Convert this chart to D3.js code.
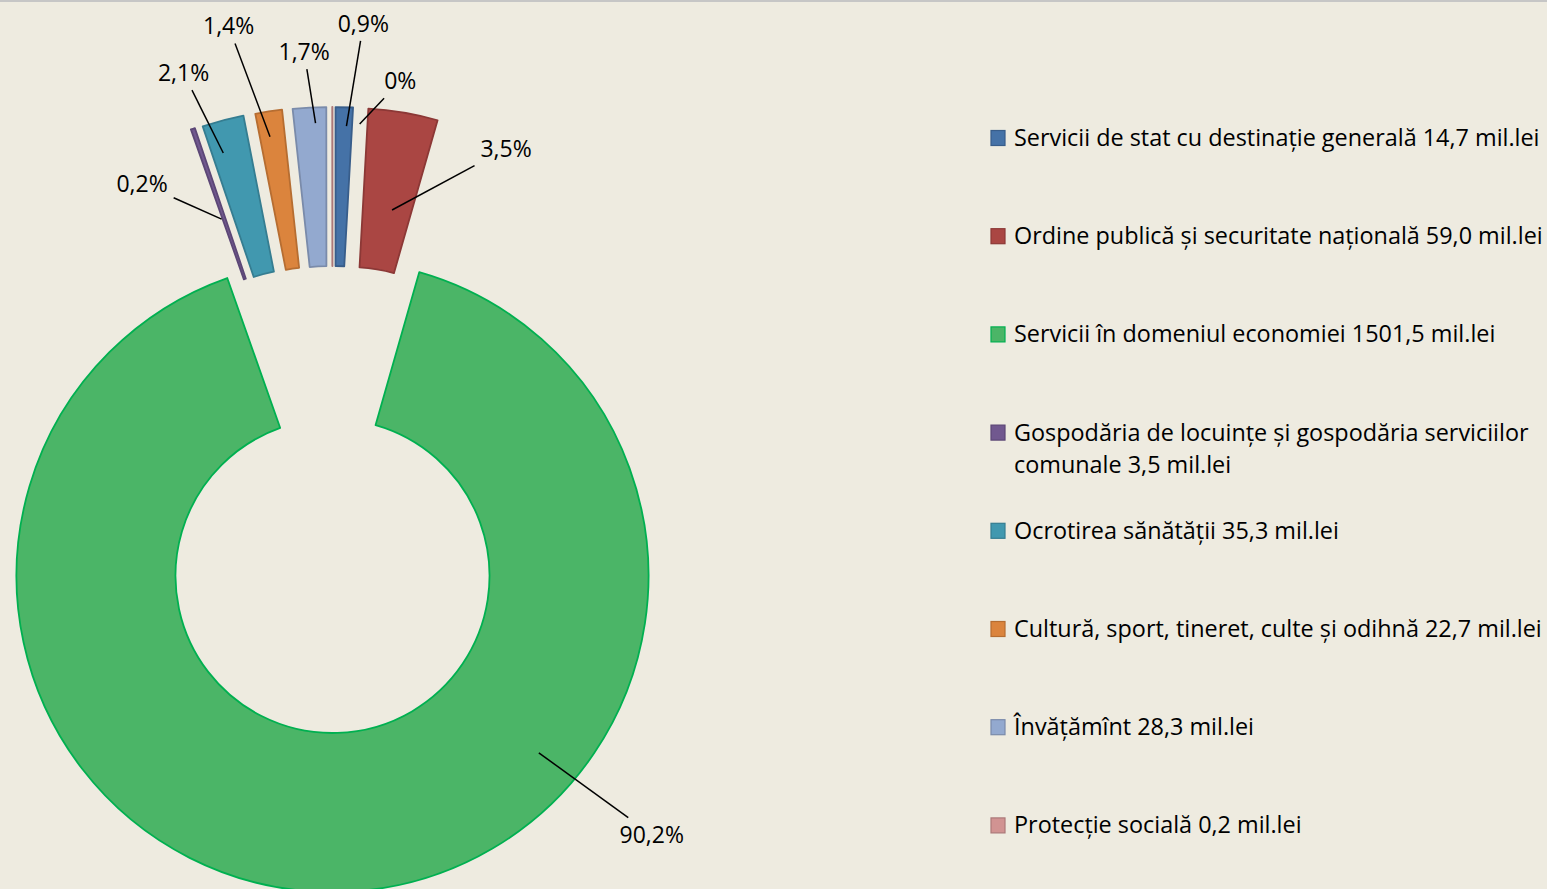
<!DOCTYPE html>
<html>
<head>
<meta charset="utf-8">
<script src="https://cdn.jsdelivr.net/npm/d3@7/dist/d3.min.js"></script>
<style>
  body { margin: 0; background: #EEEBE0; }
  svg { display: block; }
</style>
</head>
<body>
<svg id="chart" width="1547" height="889"></svg>
<script>
// data (mil.lei)
var categories = [
  "Servicii de stat cu destinație generală",
  "Ordine publică și securitate națională",
  "Servicii în domeniul economiei",
  "Gospodăria de locuințe și gospodăria serviciilor comunale",
  "Ocrotirea sănătății",
  "Cultură, sport, tineret, culte și odihnă",
  "Învățămînt",
  "Protecție socială"
];
var values = [14.7, 59.0, 1501.5, 3.5, 35.3, 22.7, 28.3, 0.2];

var fills   = ["#4572A7", "#AA4643", "#4BB567", "#71588F", "#4198AF", "#DB843D", "#93A9CF", "#D19392"];
var strokes = ["#385D8A", "#8C3836", "#00B050", "#5C4776", "#357D91", "#B66D31", "#7A8BAA", "#AC7979"];

// label layout, polar from the doughnut centre: [angle deg, distance / outer radius]
var labelPolar  = [[3.2, 1.75], [22.1, 1.46], [129, 1.30], [-25.9, 1.38], [-16.5, 1.66], [-10.7, 1.77], [-3.1, 1.66], [7.8, 1.58]];
// where each leader line touches its slice: [angle deg, distance / outer radius] in the slice frame
var leaderPolar = [[2.1, 0.94], [10.9, 0.69], [130.6, 0.86], [-19.7, 0.70], [-16.5, 0.90], [-9.1, 0.92], [-2.1, 0.95], [5.2, 0.95]];

var width = 1547, height = 889;
var cx = 332.5, cy = 576;
var outerR = 316, innerR = 157;
var explode = 153, explodeSpread = 0.72;

var svg = d3.select("#chart");
svg.append("rect").attr("width", width).attr("height", height).attr("fill", "#EEEBE0");
svg.append("rect").attr("width", width).attr("height", 2).attr("fill", "#C6C6C6");

var total = d3.sum(values);
var pie = d3.pie().sort(null).value(function(d) { return d; })
  .startAngle(0).endAngle(2 * Math.PI);
var arcs = pie(values);
var arc = d3.arc().innerRadius(innerR).outerRadius(outerR);

function polar(angDeg, r) {
  var a = angDeg * Math.PI / 180;
  return [r * Math.sin(a), -r * Math.cos(a)];
}
function offsetOf(d) {
  if (d.value / total > 0.5) return [0, 0];
  var mid = (d.startAngle + d.endAngle) / 2;
  if (mid > Math.PI) mid -= 2 * Math.PI;
  mid *= explodeSpread;
  return [explode * Math.sin(mid), -explode * Math.cos(mid)];
}

var g = svg.append("g").attr("transform", "translate(" + cx + "," + cy + ")");

g.selectAll(".slice").data(arcs).enter()
  .append("path")
    .attr("class", "slice")
    .attr("transform", function(d) { var o = offsetOf(d); return "translate(" + o[0] + "," + o[1] + ")"; })
    .attr("d", arc)
    .style("fill", function(d, i) { return fills[i]; })
    .style("stroke", function(d, i) { return strokes[i]; })
    .style("stroke-width", 1.8)
    .style("stroke-linejoin", "round");

function pctLabel(v) {
  var s = (v / total * 100).toFixed(1);
  if (+s === 0) return "0%";
  return s.replace(".", ",") + "%";
}

var font = "'Open Sans', 'Noto Sans', sans-serif";

arcs.forEach(function(d, i) {
  var o = offsetOf(d);
  var lp = polar(labelPolar[i][0], labelPolar[i][1] * outerR);
  var ep = polar(leaderPolar[i][0], leaderPolar[i][1] * outerR);
  ep = [ep[0] + o[0], ep[1] + o[1]];

  var t = g.append("text")
    .attr("x", lp[0]).attr("y", lp[1])
    .attr("dy", "0.35em")
    .attr("text-anchor", "middle")
    .attr("font-family", font)
    .attr("font-size", "23px")
    .style("fill", "#000")
    .text(pctLabel(d.value));

  // clip leader at the padded label box
  var bb = t.node().getBBox();
  var hw = bb.width / 2 + 6, hh = 17;
  var dx = ep[0] - lp[0], dy = ep[1] - lp[1];
  var s = Math.min(dx !== 0 ? hw / Math.abs(dx) : Infinity, dy !== 0 ? hh / Math.abs(dy) : Infinity);
  g.append("line")
    .attr("x1", lp[0] + dx * s).attr("y1", lp[1] + dy * s)
    .attr("x2", ep[0]).attr("y2", ep[1])
    .style("stroke", "#000")
    .style("stroke-width", 1.5);
});

// legend
var lx = 991, ly0 = 138, lstep = 98.2, maxW = 560;
var legend = svg.append("g");
categories.forEach(function(c, i) {
  var y = ly0 + i * lstep;
  legend.append("rect")
    .attr("x", lx).attr("y", y - 7.5)
    .attr("width", 14).attr("height", 15)
    .style("fill", fills[i])
    .style("stroke", strokes[i])
    .style("stroke-width", 1.2);
  var txt = c + " " + values[i].toFixed(1).replace(".", ",") + " mil.lei";
  var t = legend.append("text")
    .attr("x", lx + 23).attr("y", y + 8)
    .attr("font-family", font)
    .attr("font-size", "23.4px")
    .style("fill", "#000");
  // wrap by width
  var words = txt.split(" "), line = [], tspan = t.append("tspan").attr("x", lx + 23);
  words.forEach(function(w) {
    line.push(w);
    tspan.text(line.join(" "));
    if (tspan.node().getComputedTextLength() > maxW && line.length > 1) {
      line.pop();
      tspan.text(line.join(" "));
      line = [w];
      tspan = t.append("tspan").attr("x", lx + 23).attr("dy", 32).text(w);
    }
  });
});
</script>
</body>
</html>
